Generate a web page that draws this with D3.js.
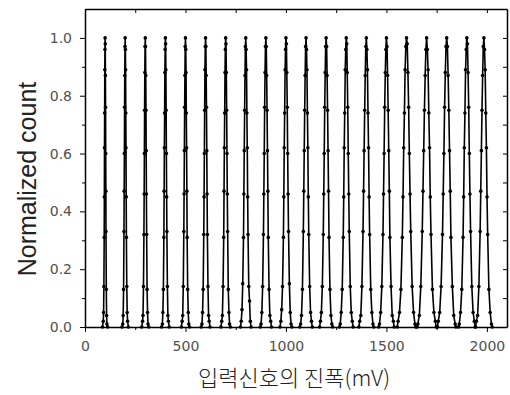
<!DOCTYPE html>
<html>
<head>
<meta charset="utf-8">
<script src="https://cdn.jsdelivr.net/npm/d3@7"></script>
<style>
  body { margin: 0; background: #fff; }
  svg { display: block; }
</style>
</head>
<body>
<div id="graph"></div>
<script>
const peakCenters = [100, 200, 300, 400, 500, 600, 700, 800, 900, 1000,
                     1100, 1200, 1300, 1400, 1500, 1600, 1700, 1800, 1900, 1985];

const peakX = [
  [91,92.5,94,95.5,96.3,97,97.8,98.5,99.3,100,100.8,101.5,102.3,103,103.8,104.5,106,107.5,109],
  [188,190,192,194,195,196,197,198,199,200,201,202,203,204,205,206,208,210,212],
  [286.5,288.7,291,293.2,294.4,295.5,296.6,297.7,298.9,300,301.1,302.3,303.4,304.5,305.6,306.8,309,311.3,313.5],
  [385,387.5,390,392.5,393.8,395,396.3,397.5,398.8,400,401.3,402.5,403.8,405,406.3,407.5,410,412.5,415],
  [483.5,486.3,489,491.8,493.1,494.5,495.9,497.3,498.6,500,501.4,502.8,504.1,505.5,506.9,508.3,511,513.8,516.5],
  [582,585,588,591,592.5,594,595.5,597,598.5,600,601.5,603,604.5,606,607.5,609,612,615,618],
  [680.5,683.8,687,690.3,691.9,693.5,695.1,696.8,698.4,700,701.6,703.3,704.9,706.5,708.1,709.8,713,716.3,719.5],
  [777.5,781.3,785,788.8,790.6,792.5,794.4,796.3,798.1,800,801.9,803.8,805.6,807.5,809.4,811.3,815,818.8,822.5],
  [876,880,884,888,890,892,894,896,898,900,902,904,906,908,910,912,916,920,924],
  [974.5,978.8,983,987.3,989.4,991.5,993.6,995.8,997.9,1000,1002.1,1004.3,1006.4,1008.5,1010.6,1012.8,1017,1021.3,1025.5],
  [1073,1077.5,1082,1086.5,1088.8,1091,1093.3,1095.5,1097.8,1100,1102.3,1104.5,1106.8,1109,1111.3,1113.5,1118,1122.5,1127],
  [1171.5,1176.3,1181,1185.8,1188.1,1190.5,1192.9,1195.3,1197.6,1200,1202.4,1204.8,1207.1,1209.5,1211.9,1214.3,1219,1223.8,1228.5],
  [1270,1275,1280,1285,1287.5,1290,1292.5,1295,1297.5,1300,1302.5,1305,1307.5,1310,1312.5,1315,1320,1325,1330],
  [1367,1372.5,1378,1383.5,1386.3,1389,1391.8,1394.5,1397.3,1400,1402.8,1405.5,1408.3,1411,1413.8,1416.5,1422,1427.5,1433],
  [1465.5,1471.3,1477,1482.8,1485.6,1488.5,1491.4,1494.3,1497.1,1500,1502.9,1505.8,1508.6,1511.5,1514.4,1517.3,1523,1528.8,1534.5],
  [1558,1565,1572,1579,1582.5,1586,1589.5,1593,1596.5,1600,1603.5,1607,1610.5,1614,1617.5,1621,1628,1635,1642],
  [1656.5,1663.8,1671,1678.3,1681.9,1685.5,1689.1,1692.8,1696.4,1700,1703.6,1707.3,1710.9,1714.5,1718.1,1721.8,1729,1736.3,1743.5],
  [1758,1765,1772,1779,1782.5,1786,1789.5,1793,1796.5,1800,1803.5,1807,1810.5,1814,1817.5,1821,1828,1835,1842],
  [1862.5,1868.8,1875,1881.3,1884.4,1887.5,1890.6,1893.8,1896.9,1900,1903.1,1906.3,1909.4,1912.5,1915.6,1918.8,1925,1931.3,1937.5],
  [1947.5,1953.8,1960,1966.3,1969.4,1972.5,1975.6,1978.8,1981.9,1985,1988.1,1991.3,1994.4,1997.5,2000.6,2003.8,2010,2016.3,2022.5]
];

const peakY = [
  [.02,.05,.14,.31,.45,.62,.74,.89,.96,1,.98,.87,.76,.6,.47,.33,.13,.04,.01],
  [.01,.04,.13,.33,.47,.6,.76,.87,.97,1,.96,.89,.74,.62,.45,.31,.14,.05,.02],
  [.02,.04,.14,.32,.46,.6,.75,.88,.97,1,.97,.87,.75,.61,.46,.32,.13,.05,.01],
  [.01,.05,.13,.31,.47,.62,.74,.88,.96,1,.98,.89,.75,.6,.45,.33,.14,.04,.02],
  [.02,.04,.14,.33,.46,.61,.76,.87,.97,1,.96,.88,.74,.62,.47,.31,.13,.05,.01],
  [.01,.05,.13,.32,.45,.6,.75,.89,.97,1,.97,.87,.76,.61,.46,.32,.14,.04,.02],
  [.02,.04,.14,.31,.47,.62,.74,.88,.96,1,.98,.88,.75,.6,.46,.33,.13,.05,.01],
  [.02,.06,.15,.31,.46,.61,.75,.87,.97,1,.96,.89,.74,.62,.45,.32,.14,.09,.02],
  [.01,.05,.14,.32,.46,.6,.76,.88,.97,1,.97,.87,.75,.61,.47,.31,.13,.04,.02],
  [.02,.06,.14,.31,.45,.62,.74,.89,.96,1,.98,.88,.76,.6,.46,.33,.15,.05,.01],
  [.01,.04,.13,.33,.47,.61,.75,.87,.97,1,.96,.89,.74,.62,.45,.32,.14,.05,.02],
  [.02,.05,.14,.32,.46,.6,.76,.88,.97,1,.97,.87,.75,.61,.47,.31,.13,.04,.01],
  [.01,.05,.13,.31,.45,.62,.74,.89,.96,1,.98,.88,.76,.6,.46,.33,.14,.05,.02],
  [.02,.04,.14,.33,.47,.61,.75,.87,.97,1,.96,.89,.74,.62,.45,.32,.13,.05,.01],
  [.01,.05,.14,.32,.46,.6,.76,.88,.96,1,.97,.87,.75,.61,.47,.31,.14,.04,.02],
  [.02,.05,.13,.31,.45,.62,.74,.89,.97,1,.98,.88,.76,.6,.46,.33,.14,.05,.01],
  [.01,.04,.14,.33,.47,.61,.75,.87,.96,1,.96,.89,.74,.62,.45,.32,.13,.05,.02],
  [.02,.05,.14,.32,.46,.6,.76,.88,.97,1,.97,.87,.75,.61,.47,.31,.14,.04,.01],
  [.01,.05,.13,.31,.45,.62,.74,.89,.96,1,.98,.88,.76,.6,.46,.33,.14,.05,.02],
  [.02,.04,.14,.33,.47,.61,.75,.87,.97,1,.96,.89,.74,.62,.45,.32,.13,.05,.01]
];

const xTicks = [0, 500, 1000, 1500, 2000];
const yTicks = [0, 0.2, 0.4, 0.6, 0.8, 1.0];
const xTitle = "입력신호의 진폭(mV)";
const yTitle = "Normalized count";

// chart geometry
const width = 510, height = 395;
const marginLeft = 85, marginRight = 3, marginTop = 9, marginBottom = 68;

const x = d3.scaleLinear().domain([0, 2100]).range([marginLeft, width - marginRight]);
const y = d3.scaleLinear().domain([0, 1.1]).range([height - marginBottom, marginTop]);

const svg = d3.select("#graph").append("svg")
    .attr("width", width)
    .attr("height", height)
    .attr("viewBox", [0, 0, width, height]);

const tickFont = "14px 'DejaVu Sans', sans-serif";

// bottom axis (outer ticks) + minor ticks
svg.append("g")
    .attr("transform", `translate(0,${y(0)})`)
    .call(d3.axisBottom(x).tickValues(d3.range(250, 2100, 500)).tickSize(3).tickFormat(""))
    .call(g => g.select(".domain").remove());
svg.append("g")
    .attr("transform", `translate(0,${y(0)})`)
    .call(d3.axisBottom(x).tickValues(xTicks).tickSize(5).tickSizeOuter(0).tickPadding(9).tickFormat(d3.format("d")))
    .call(g => g.selectAll("text").style("font", tickFont).attr("fill", "#505050"));

// left axis
svg.append("g")
    .attr("transform", `translate(${marginLeft},0)`)
    .call(d3.axisLeft(y).tickValues(d3.range(0.1, 1.1, 0.2)).tickSize(3).tickFormat(""))
    .call(g => g.select(".domain").remove());
svg.append("g")
    .attr("transform", `translate(${marginLeft},0)`)
    .call(d3.axisLeft(y).tickValues(yTicks).tickSize(5).tickSizeOuter(0).tickPadding(8).tickFormat(d3.format(".1f")))
    .call(g => g.selectAll("text").style("font", tickFont).attr("fill", "#505050"));

// top and right mirror axes, ticks pointing inward
svg.append("g")
    .attr("transform", `translate(0,${marginTop})`)
    .call(d3.axisBottom(x).tickValues(d3.range(0, 2100, 250)).tickSize(4).tickSizeOuter(0).tickFormat(""));
svg.append("g")
    .attr("transform", `translate(${width - marginRight},0)`)
    .call(d3.axisLeft(y).tickValues(d3.range(0, 1.1, 0.1)).tickSize(4).tickSizeOuter(0).tickFormat(""));

svg.selectAll(".domain").attr("stroke-width", 1.5);

// peaks
const line = d3.line().x(d => x(d[0])).y(d => y(d[1]));
const peaks = peakCenters.map((c, i) => {
  const pts = peakX[i].map((v, j) => [v, peakY[i][j]]);
  return [[peakX[i][0] - 4, 0], ...pts, [peakX[i][peakX[i].length - 1] + 4, 0]];
});

const plot = svg.append("g");
plot.selectAll("path.peak")
  .data(peaks)
  .join("path")
    .attr("class", "peak")
    .attr("fill", "none")
    .attr("stroke", "#000")
    .attr("stroke-width", 1.6)
    .attr("d", line);

plot.selectAll("g.dots")
  .data(peaks)
  .join("g")
    .attr("class", "dots")
  .selectAll("circle")
  .data(d => d)
  .join("circle")
    .attr("cx", d => x(d[0]))
    .attr("cy", d => y(d[1]))
    .attr("r", 1.8)
    .attr("fill", "#000");

// axis titles
svg.append("text")
    .attr("transform", `translate(36,179) rotate(-90)`)
    .attr("text-anchor", "middle")
    .style("font", "25px 'Liberation Sans', Arial, sans-serif")
    .attr("fill", "#222")
    .text(yTitle);

svg.append("text")
    .attr("x", 294)
    .attr("y", 386)
    .attr("text-anchor", "middle")
    .style("font", "300 22px 'Noto Sans CJK KR', sans-serif")
    .attr("fill", "#222")
    .text(xTitle);
</script>
</body>
</html>
